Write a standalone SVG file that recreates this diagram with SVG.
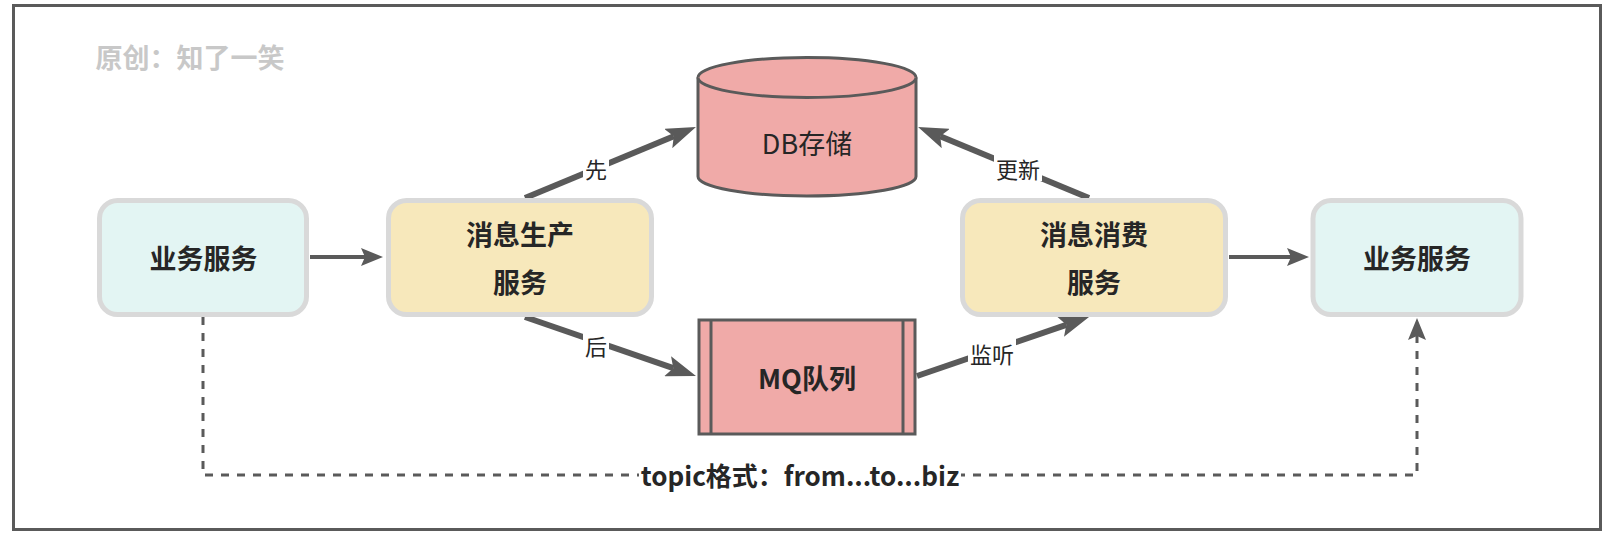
<svg xmlns="http://www.w3.org/2000/svg" width="1614" height="536" viewBox="0 0 1614 536">
<style>
.node{stroke:#d9d9d9;stroke-width:5}
.svc{fill:#e3f5f3}
.msg{fill:#f7e8bb}
.store{fill:#f0aaa8;stroke:#5a5a5a;stroke-width:3}
.t{font-family:"Noto Sans CJK SC","Liberation Sans",sans-serif;fill:#262626;text-anchor:middle;dominant-baseline:central}
.b{font-weight:bold;font-size:27px}
.lbl{font-size:22px}
.ln{stroke:#5a5a5a;fill:none}
</style>
<defs>
<marker id="big" viewBox="0 0 30 21" refX="6" refY="10.5" markerWidth="30" markerHeight="21" markerUnits="userSpaceOnUse" orient="auto"><path d="M0,0 L30,10.5 L0,21 L6,10.5 z" fill="#5a5a5a"/></marker>
<marker id="small" viewBox="0 0 22 18" refX="4" refY="9" markerWidth="22" markerHeight="18" markerUnits="userSpaceOnUse" orient="auto"><path d="M0,0 L22,9 L0,18 L4,9 z" fill="#5a5a5a"/></marker>
</defs>
<rect x="0" y="0" width="1614" height="536" fill="#ffffff"/>
<rect x="13.5" y="5.5" width="1587" height="524" fill="#ffffff" stroke="#5a5a5a" stroke-width="3"/>
<text x="190" y="56" class="t b" style="fill:#c8c8c8">原创：知了一笑</text>

<g id="connectors">
<line class="ln" x1="310" y1="257" x2="365" y2="257" stroke-width="4" marker-end="url(#small)"/>
<line class="ln" x1="1229" y1="257" x2="1291" y2="257" stroke-width="4" marker-end="url(#small)"/>
<line class="ln" x1="525" y1="198" x2="673.8" y2="136.2" stroke-width="6" marker-end="url(#big)"/>
<line class="ln" x1="1089" y1="198" x2="940.2" y2="136.2" stroke-width="6" marker-end="url(#big)"/>
<line class="ln" x1="525" y1="317" x2="673.3" y2="368.2" stroke-width="6" marker-end="url(#big)"/>
<line class="ln" x1="917" y1="376" x2="1066.3" y2="324.8" stroke-width="6" marker-end="url(#big)"/>
<path class="ln" d="M203,317 V475 H1417 V336" stroke-width="3" stroke-dasharray="8 8" marker-end="url(#small)"/>
<rect x="583" y="154" width="26" height="27" fill="#fff"/>
<text x="596" y="167.5" class="t lbl">先</text>
<rect x="994" y="154" width="48" height="27" fill="#fff"/>
<text x="1018" y="167.5" class="t lbl">更新</text>
<rect x="583" y="331" width="26" height="27" fill="#fff"/>
<text x="596" y="344.5" class="t lbl">后</text>
<rect x="968" y="339" width="48" height="27" fill="#fff"/>
<text x="992" y="352.5" class="t lbl">监听</text>
<rect x="639" y="460" width="322" height="30" fill="#fff"/>
<text x="800" y="474.5" class="t b" style="font-size:26px">topic格式：from...to...biz</text>
</g>

<g id="biz-left">
<rect class="node svc" x="99.5" y="200.5" width="207" height="114" rx="18"/>
<text x="203.5" y="257" class="t b">业务服务</text>
</g>
<g id="producer">
<rect class="node msg" x="388.5" y="200.5" width="263" height="114" rx="18"/>
<text x="520" y="233" class="t b">消息生产</text>
<text x="520" y="281" class="t b">服务</text>
</g>
<g id="consumer">
<rect class="node msg" x="962.5" y="200.5" width="263" height="114" rx="18"/>
<text x="1094" y="233" class="t b">消息消费</text>
<text x="1094" y="281" class="t b">服务</text>
</g>
<g id="biz-right">
<rect class="node svc" x="1313" y="200.5" width="208" height="114" rx="18"/>
<text x="1417" y="257" class="t b">业务服务</text>
</g>
<g id="db">
<path class="store" d="M698,77.5 V176.5 A109,19.5 0 0 0 916,176.5 V77.5 A109,20 0 0 0 698,77.5 Z"/>
<path class="store" d="M698,77.5 A109,20 0 0 0 916,77.5" fill="none"/>
<text x="807" y="142" class="t" style="font-size:27px">DB存储</text>
</g>
<g id="mq">
<rect class="store" x="699" y="320" width="216" height="114"/>
<line x1="711" y1="320" x2="711" y2="434" stroke="#5a5a5a" stroke-width="3"/>
<line x1="903" y1="320" x2="903" y2="434" stroke="#5a5a5a" stroke-width="3"/>
<text x="807" y="377" class="t b">MQ队列</text>
</g>
</svg>
